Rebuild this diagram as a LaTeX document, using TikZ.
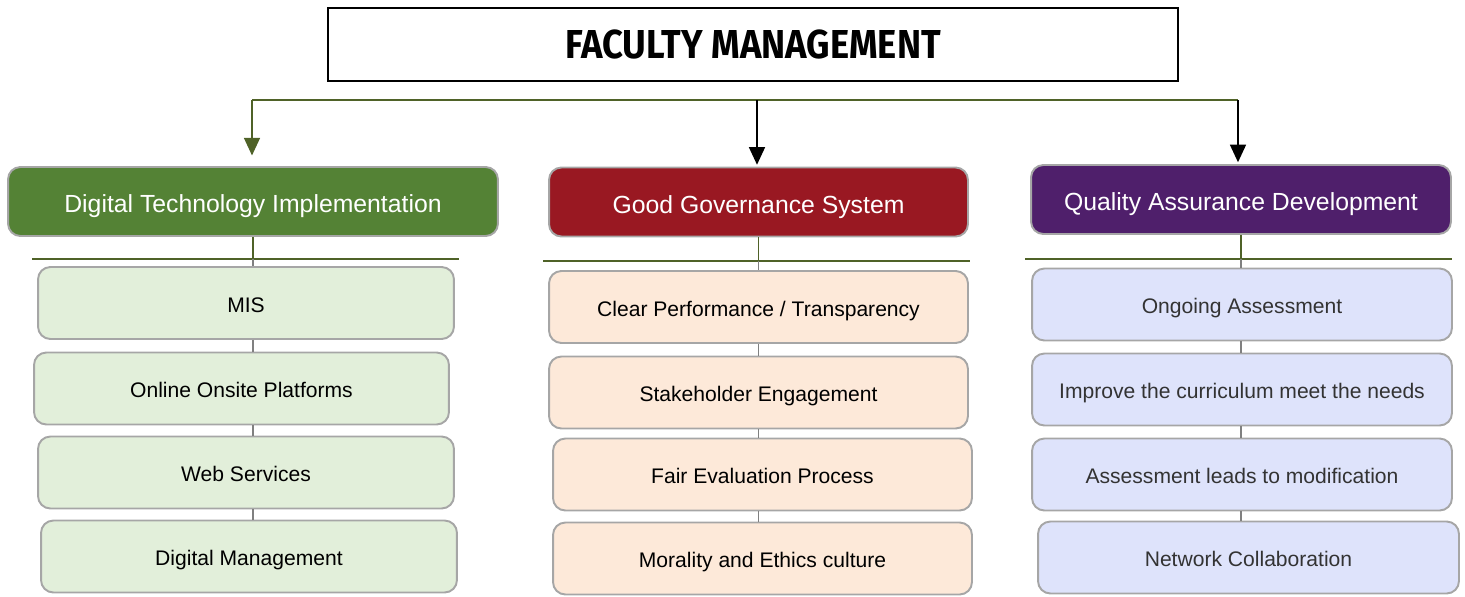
\documentclass[tikz,border=0pt]{standalone}
\usepackage{fontspec}
\setmainfont{Liberation Sans}
\newfontfamily\titlefont{Fira Sans}
\usetikzlibrary{arrows.meta,positioning}

\definecolor{linegreen}{HTML}{4F6228}
\definecolor{boxgray}{HTML}{A6A6A6}
\definecolor{stemgray}{HTML}{808080}
\definecolor{dtigreen}{HTML}{548235}
\definecolor{ggsred}{HTML}{991822}
\definecolor{qadpurple}{HTML}{4F1F6B}
\definecolor{dtilight}{HTML}{E2EFDA}
\definecolor{ggslight}{HTML}{FDE9D9}
\definecolor{qadlight}{HTML}{DEE3FB}

\tikzset{
	head/.style={draw=boxgray, line width=1.1pt, rounded corners=7pt,
		text=white, font=\fontsize{14.1}{16}\selectfont,
		text height=1.3em, text depth=0pt,
		minimum height=1.38cm, minimum width=#1},
	item/.style={draw=boxgray, line width=1.1pt, rounded corners=7pt,
		font=\fontsize{12}{14}\selectfont,
		text height=1.05em, text depth=0pt,
		minimum height=1.44cm, minimum width=#1},
	bus/.style={linegreen, line width=1.1pt},
	stem/.style={stemgray, line width=1.1pt},
	down/.style={-{Triangle[width=9pt,length=10pt]}, line width=1.1pt, shorten >=1pt}
}

\begin{document}
\begin{tikzpicture}[x=0.02cm, y=-0.02cm]

% canvas %{{{2

	\useasboundingbox (0,0) rectangle (1465,596);

% title %{{{2

	\node[draw, line width=0.7pt, minimum width=17cm, minimum height=1.46cm]
		(title) at (753,44.5)
		{\titlefont\bfseries\fontsize{23}{26}\selectfont\scalebox{0.9}[1]{FACULTY MANAGEMENT}};

% headers %{{{2

	\node[head=9.8cm,  fill=dtigreen]  (dti) at (253,201.5) {Digital Technology Implementation};
	\node[head=8.38cm, fill=ggsred]    (ggs) at (758.5,202) {Good Governance System};
	\node[head=8.4cm,  fill=qadpurple] (qad) at (1241,199.5) {Quality Assurance Development};

% bus and arrows %{{{2

	\coordinate (busL) at (252,100);
	\coordinate (busM) at (757,100);
	\coordinate (busR) at (1238,100);

	\draw[bus] (busL) -- (busR);

	\draw[bus, down, shorten >=6pt] (busL) -- (busL |- dti.north);
	\draw[down] (busM) -- (busM |- ggs.north);
	\draw[down] (busR) -- (busR |- qad.north);

% digital technology %{{{2

	\node[item=8.32cm, fill=dtilight] (dti1) at (246,303)   {MIS};
	\node[item=8.3cm,  fill=dtilight] (dti2) at (241.5,388.5) {Online Onsite Platforms};
	\node[item=8.32cm, fill=dtilight] (dti3) at (246,472.5) {Web Services};
	\node[item=8.32cm, fill=dtilight] (dti4) at (249,556.5) {Digital Management};

	% ---- rule under the header

	\coordinate (dtiA) at (32,259);
	\coordinate (dtiB) at (459,259);
	\draw[bus] (dtiA) -- (dtiB);

	\draw[bus]  (dti.south) -- (dti.south |- dtiA);
	\draw[stem] (dti.south |- dtiA) -- (dti.south |- dti1.north);
	\draw[stem] (dti1.south -| dti.south) -- (dti2.north -| dti.south);
	\draw[stem] (dti2.south -| dti.south) -- (dti3.north -| dti.south);
	\draw[stem] (dti3.south -| dti.south) -- (dti4.north -| dti.south);

% good governance %{{{2

	\node[item=8.38cm, fill=ggslight] (ggs1) at (758.5,307)   {Clear Performance / Transparency};
	\node[item=8.38cm, fill=ggslight] (ggs2) at (758.5,392.5) {Stakeholder Engagement};
	\node[item=8.38cm, fill=ggslight] (ggs3) at (762.5,474.5) {Fair Evaluation Process};
	\node[item=8.38cm, fill=ggslight] (ggs4) at (762.5,558.5) {Morality and Ethics culture};

	% ---- rule under the header

	\coordinate (ggsA) at (543,261);
	\coordinate (ggsB) at (970,261);
	\draw[bus] (ggsA) -- (ggsB);

	\draw[bus]  (ggs.south) -- (ggs.south |- ggsA);
	\draw[stem] (ggs.south |- ggsA) -- (ggs.south |- ggs1.north);
	\draw[stem] (ggs1.south -| ggs.south) -- (ggs2.north -| ggs.south);
	\draw[stem] (ggs2.south -| ggs.south) -- (ggs3.north -| ggs.south);
	\draw[stem] (ggs3.south -| ggs.south) -- (ggs4.north -| ggs.south);

% quality assurance %{{{2

	\node[item=8.4cm,  fill=qadlight, text=black!80] (qad1) at (1242,304.5) {Ongoing Assessment};
	\node[item=8.4cm,  fill=qadlight, text=black!80] (qad2) at (1242,389.5) {Improve the curriculum meet the needs};
	\node[item=8.4cm,  fill=qadlight, text=black!80] (qad3) at (1242,474.5) {Assessment leads to modification};
	\node[item=8.42cm, fill=qadlight, text=black!80] (qad4) at (1248.5,557.5) {Network Collaboration};

	% ---- rule under the header

	\coordinate (qadA) at (1025,259);
	\coordinate (qadB) at (1452,259);
	\draw[bus] (qadA) -- (qadB);

	\draw[bus]  (qad.south) -- (qad.south |- qadA);
	\draw[stem] (qad.south |- qadA) -- (qad.south |- qad1.north);
	\draw[stem] (qad1.south -| qad.south) -- (qad2.north -| qad.south);
	\draw[stem] (qad2.south -| qad.south) -- (qad3.north -| qad.south);
	\draw[stem] (qad3.south -| qad.south) -- (qad4.north -| qad.south);

% closing %{{{2

\end{tikzpicture}
\end{document}
